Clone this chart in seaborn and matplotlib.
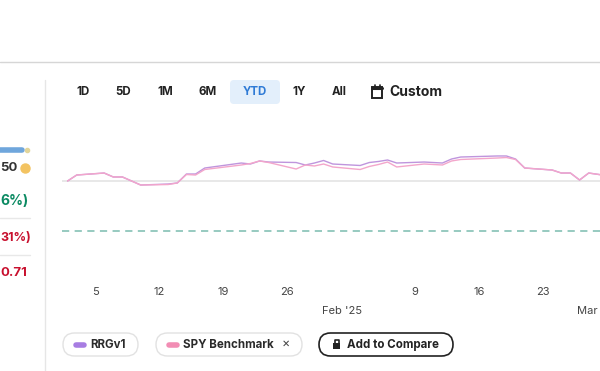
import pandas as pd
import matplotlib.pyplot as plt
from matplotlib.patches import FancyBboxPatch, Rectangle
import seaborn as sns

# trading days shown on the YTD chart
dates = ["2025-01-02", "2025-01-03", "2025-01-06", "2025-01-07", "2025-01-08",
         "2025-01-10", "2025-01-13", "2025-01-14", "2025-01-15", "2025-01-16",
         "2025-01-17", "2025-01-21", "2025-01-22", "2025-01-23", "2025-01-24",
         "2025-01-27", "2025-01-28", "2025-01-29", "2025-01-30", "2025-01-31",
         "2025-02-03", "2025-02-04", "2025-02-05", "2025-02-06", "2025-02-07",
         "2025-02-10", "2025-02-11", "2025-02-12", "2025-02-13", "2025-02-14",
         "2025-02-18", "2025-02-19", "2025-02-20", "2025-02-21", "2025-02-24",
         "2025-02-25", "2025-02-26", "2025-02-27", "2025-02-28", "2025-03-03"]

# % return since start
rrg = [0.00, 1.09, 1.45, 0.73, 0.73, -0.73, -0.55, -0.36, 1.27, 1.27,
       2.36, 3.27, 3.09, 3.64, 3.45, 3.36, 2.91, 3.27, 3.73, 3.09,
       2.82, 3.36, 3.55, 3.82, 3.27, 3.45, 3.36, 3.27, 4.00, 4.36,
       4.55, 4.55, 4.00, 2.36, 2.00, 1.45, 1.45, 0.18, 1.45, 0.73]
spy = [0.00, 1.09, 1.45, 0.73, 0.73, -0.73, -0.64, -0.36, 1.18, 1.09,
       2.09, 2.91, 3.18, 3.64, 3.36, 2.18, 2.91, 2.73, 3.09, 2.55,
       2.09, 2.64, 3.00, 3.45, 2.55, 3.09, 3.00, 2.91, 3.64, 3.91,
       4.18, 4.27, 3.91, 2.36, 2.00, 1.45, 1.45, 0.18, 1.45, 0.73]
reference_level = -9.09

day_ticks = ["2025-01-05", "2025-01-12", "2025-01-19", "2025-01-26",
             "2025-02-09", "2025-02-16", "2025-02-23"]
day_labels = ["5", "12", "19", "26", "9", "16", "23"]
month_ticks = ["2025-02-01", "2025-03-01"]
month_labels = ["Feb '25", "Mar"]

range_buttons = ["1D", "5D", "1M", "6M", "YTD", "1Y", "All"]

sns.set_style("white")
plt.rcParams['font.family'] = ['Inter', 'DejaVu Sans']

W, H = 600, 371
fig = plt.figure(figsize=(W / 100, H / 100), dpi=100)
fig.patch.set_facecolor("white")

# overlay axes in pixel units for the page furniture
ui = fig.add_axes([0, 0, 1, 1], zorder=0)
ui.set_xlim(0, W)
ui.set_ylim(H, 0)
ui.axis("off")

# ---- chart ----
px_day = 64 / 7
left_px, right_px, top_px, bottom_px = 62, 600, 140, 280
zero_px, px_pct = 181, 5.5
anchor_px = 95
ax = fig.add_axes([left_px / W, 1 - bottom_px / H,
                   (right_px - left_px) / W, (bottom_px - top_px) / H], zorder=1)
ax.patch.set_alpha(0)

df = pd.DataFrame({
    "date": pd.to_datetime(dates * 2),
    "value": rrg + spy,
    "series": ["RRGv1"] * len(dates) + ["SPY Benchmark"] * len(dates),
})
ax.axhline(0, color="#e6e6e6", lw=1.3, zorder=0)
ax.axhline(reference_level, color="#8fc6bb", lw=1.3, ls=(0, (4, 3)), zorder=0)
sns.lineplot(data=df, x="date", y="value", hue="series",
             palette={"RRGv1": "#bf95dd", "SPY Benchmark": "#f3a6cb"},
             lw=1.0, legend=False, ax=ax)

anchor = pd.Timestamp(day_ticks[0])
ax.set_xlim(anchor - pd.Timedelta(days=(anchor_px - left_px) / px_day),
            anchor + pd.Timedelta(days=(right_px - anchor_px) / px_day))
ax.set_ylim((zero_px - bottom_px) / px_pct, (zero_px - top_px) / px_pct)
ax.set_xlabel("")
ax.set_ylabel("")
ax.set_yticks([])
ax.set_xticks(pd.to_datetime(day_ticks))
ax.set_xticklabels(day_labels)
ax.set_xticks(pd.to_datetime(month_ticks), minor=True)
ax.set_xticklabels(month_labels, minor=True)
ax.tick_params(axis="x", which="major", length=0, pad=5, labelsize=8, labelcolor="#444444")
ax.tick_params(axis="x", which="minor", length=0, pad=19, labelsize=8, labelcolor="#444444")
ax.xaxis.get_minorticklabels()[-1].set_horizontalalignment("right")
for s in ax.spines.values():
    s.set_visible(False)

# ---- page furniture ----
ui.plot([0, W], [62, 62], color="#d6d6d6", lw=1)
ui.plot([45, 45], [80, H], color="#e6e6e6", lw=1)

# range selector
ui.add_patch(FancyBboxPatch((230, 80), 50, 24, boxstyle="round,pad=0,rounding_size=4",
                            fc="#e3effb", ec="none"))
for label, x in zip(range_buttons, [83, 123, 165, 208, 255, 299, 339]):
    ui.text(x, 92, label, ha="center", va="center", fontsize=8.3, weight="bold",
            color="#2f7bd6" if label == "YTD" else "#222222")
ui.add_patch(Rectangle((372, 86.5), 10, 11, fc="none", ec="#222222", lw=1.4))
ui.plot([372, 382], [88, 88], color="#222222", lw=2.2)
ui.plot([374.5, 374.5], [84.5, 86.5], color="#222222", lw=1.2)
ui.plot([379.5, 379.5], [84.5, 86.5], color="#222222", lw=1.2)
ui.text(389, 92, "Custom", ha="left", va="center", fontsize=10, weight="bold", color="#222222")

# legend chips
chips = [(63, 75, "RRGv1", "#a77de2"), (156, 146, "SPY Benchmark", "#f28db4")]
for x, w, label, c in chips:
    ui.add_patch(FancyBboxPatch((x, 333), w, 23, boxstyle="round,pad=0,rounding_size=11.5",
                                fc="white", ec="#e2e2e2", lw=1))
    ui.plot([x + 13, x + 21], [344.5, 344.5], color=c, lw=4, solid_capstyle="round")
    ui.text(x + 27, 345, label, ha="left", va="center", fontsize=8.3, weight="bold", color="#2a2a2a")
ui.text(286, 344, "×", ha="center", va="center", fontsize=9, color="#444444")
ui.add_patch(FancyBboxPatch((319, 333), 134, 23, boxstyle="round,pad=0,rounding_size=11.5",
                            fc="white", ec="#222222", lw=1.2))
ui.add_patch(Rectangle((333, 343), 7, 6, fc="#222222", ec="none"))
ui.plot([334.5, 334.5, 338.5, 338.5], [343, 340, 340, 343], color="#222222", lw=1.2)
ui.text(347, 345, "Add to Compare", ha="left", va="center", fontsize=8.3, weight="bold", color="#222222")

# side panel (only its right edge is in view)
ui.plot([-5, 22], [150, 150], color="#6fa6dc", lw=4, solid_capstyle="round")
ui.plot([27], [150], "o", ms=3, color="#e2d59a")
ui.text(0, 168, "50", ha="left", va="center", fontsize=9.5, weight="bold", color="#333333")
ui.plot([24.5], [168], "o", ms=6.5, color="#f3c361")
ui.text(0.5, 201, "6%)", ha="left", va="center", fontsize=10, weight="bold", color="#0b8a62")
ui.plot([0, 30], [218, 218], color="#e8e8e8", lw=1)
ui.text(0, 238, "31%)", ha="left", va="center", fontsize=9, weight="bold", color="#c8102e")
ui.plot([0, 30], [255, 255], color="#e8e8e8", lw=1)
ui.text(0.5, 273, "0.71", ha="left", va="center", fontsize=9.5, weight="bold", color="#c8102e")

fig.savefig("out.png", dpi=100)
